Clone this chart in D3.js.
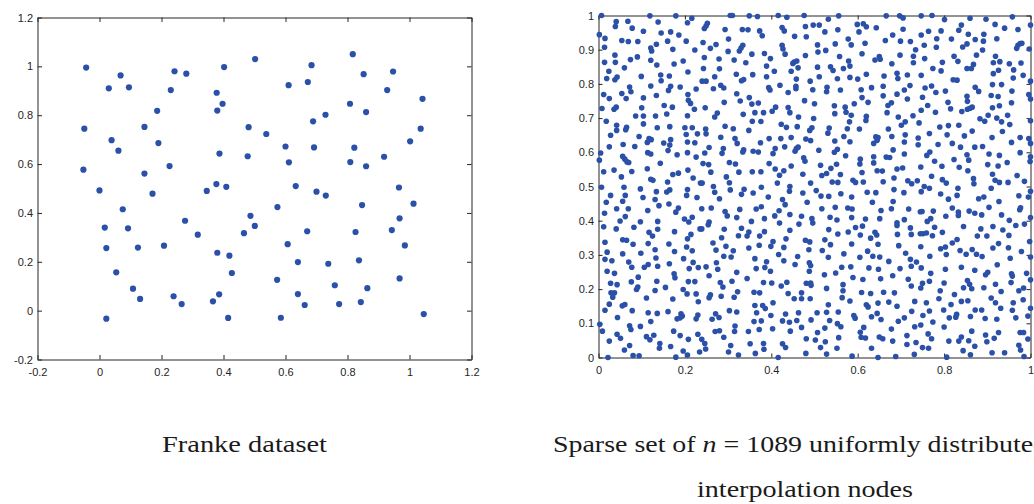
<!DOCTYPE html>
<html>
<head>
<meta charset="utf-8">
<script src="https://cdn.jsdelivr.net/npm/d3@7"></script>
<style>
body { margin: 0; background: #fff; }
svg { display: block; }
</style>
</head>
<body>
<svg id="chart" width="1034" height="504"></svg>
<script>
"use strict"

//
// Data
//
// Franke dataset (left panel), [x, y]
var frankeNodes = [
	[-.043,.995],[.068,.963],[.030,.910],[.095,.914],[.242,.980],[.280,.970],[.402,.997],[.230,.903],[.378,.892],[.397,.847],
	[.186,.818],[.380,.819],[-.049,.745],[.145,.752],[.039,.698],[.061,.655],[.190,.686],[.387,.643],[.478,.632],[.481,.751],
	[-.052,.577],[.226,.592],[.145,.561],[.171,.479],[0,.492],[.346,.490],[.377,.518],[.409,.507],[.075,.415],[.017,.340],
	[.092,.337],[.276,.368],[.317,.311],[.022,.256],[.124,.258],[.208,.266],[.380,.237],[.419,.225],[.054,.157],[.427,.154],
	[.108,.090],[.131,.048],[.239,.059],[.265,.027],[.366,.038],[.386,.067],[.022,-.033],[.415,-.030],[.466,.317],
	[.502,1.030],[.817,1.050],[.684,1.005],[.610,.923],[.672,.936],[.852,.968],[.947,.979],[.928,.903],[1.042,.867],[.808,.847],
	[.860,.813],[.729,.802],[.689,.775],[1.036,.745],[.538,.723],[1.002,.693],[.600,.672],[.692,.668],[.822,.667],[.918,.630],
	[.611,.607],[.809,.608],[.860,.591],[.633,.510],[.700,.487],[.730,.471],[.966,.504],[.574,.424],[.847,.432],[1.013,.438],
	[.487,.388],[.501,.347],[.968,.378],[.670,.325],[.826,.322],[.943,.330],[.607,.272],[.985,.267],[.640,.199],[.837,.206],
	[.738,.192],[.573,.126],[.968,.132],[.759,.104],[.864,.092],[.640,.068],[.662,.023],[.773,.027],[.843,.035],[.585,-.029],
	[1.046,-.014]
];

// sparse set of uniformly distributed nodes (right panel), [x, y]
var uniformNodes = [
	// upper left
	[.007,1],[.041,.982],[.039,.968],[.068,.983],[.078,.963],[.119,.999],[.138,.981],[.179,.999],[.206,.979],[.216,.992],
	[.002,.944],[.015,.933],[.054,.927],[.069,.924],[.091,.924],[.104,.954],[.145,.949],[.167,.952],[.186,.943],[.160,.925],
	[.203,.925],[.014,.907],[.121,.905],[.123,.896],[.134,.916],[.172,.901],[.223,.899],[.038,.884],[.074,.871],[.090,.879],
	[.014,.863],[.039,.863],[.121,.869],[.135,.855],[.175,.858],[.196,.867],[.060,.847],[.024,.837],[.207,.835],[.019,.816],
	[.038,.812],[.043,.820],[.099,.822],[.144,.826],[.145,.809],[.164,.823],[.072,.791],[.075,.777],[.054,.772],[.121,.794],
	[.167,.793],[.162,.781],[.189,.791],[.226,.785],[.012,.769],[.025,.757],[.064,.757],[.104,.759],[.134,.766],[.207,.769],
	[.208,.752],[.213,.743],[.008,.728],[.036,.726],[.041,.732],[.100,.730],[.152,.737],[.171,.732],[.222,.726],[.018,.691],
	[.086,.706],[.104,.706],[.132,.706],[.158,.712],[.206,.707],[.104,.683],[.042,.679],[.042,.664],[.065,.673],[.063,.666],
	[.136,.672],[.165,.675],[.200,.672],[.217,.672],[.028,.650],[.094,.646],[.117,.640],[.122,.637],[.113,.629],[.151,.627],
	[.167,.637],[.165,.621],[.161,.605],[.203,.652],[.206,.630],[.223,.628],[.229,.654],[.057,.623],[.025,.616],[.084,.617],
	[.114,.599],[.121,.595],[.206,.599],[.005,.598],[.002,.577],[.056,.588],[.061,.580],[.066,.572],[.070,.570],[.143,.568],
	[.182,.593],[.226,.586],[.012,.543],[.036,.548],[.077,.544],[.113,.552],[.172,.535],[.185,.539],[.207,.548],[.053,.528],
	[.121,.521],[.126,.518],[.160,.513],[.219,.525],[.236,.510],
	// upper middle left
	[.305,1],[.310,1],[.349,.999],[.368,.997],[.416,1],[.436,.995],[.476,1],[.252,.977],[.249,.969],[.245,.962],
	[.293,.959],[.333,.959],[.346,.958],[.373,.955],[.379,.941],[.425,.965],[.430,.955],[.454,.939],[.479,.968],[.481,.938],
	[.301,.931],[.242,.921],[.272,.915],[.259,.904],[.334,.913],[.330,.905],[.326,.896],[.300,.895],[.355,.887],[.384,.889],
	[.398,.874],[.425,.913],[.427,.902],[.432,.887],[.479,.883],[.245,.877],[.279,.873],[.314,.870],[.341,.862],[.389,.852],
	[.453,.864],[.459,.867],[.450,.860],[.243,.845],[.280,.844],[.462,.847],[.407,.837],[.446,.837],[.319,.828],[.357,.827],
	[.389,.821],[.269,.821],[.240,.808],[.249,.808],[.331,.809],[.336,.813],[.458,.814],[.490,.808],[.283,.796],[.290,.788],
	[.266,.786],[.394,.789],[.397,.782],[.420,.796],[.457,.793],[.457,.786],[.320,.771],[.439,.775],[.328,.750],[.349,.760],
	[.355,.741],[.370,.744],[.477,.751],[.291,.746],[.247,.730],[.410,.732],[.402,.720],[.439,.731],[.443,.716],[.275,.715],
	[.269,.703],[.335,.711],[.362,.716],[.382,.716],[.463,.703],[.356,.691],[.376,.690],[.423,.682],[.435,.673],[.460,.675],
	[.293,.676],[.312,.669],[.248,.668],[.249,.654],[.489,.664],[.348,.664],[.283,.644],[.316,.640],[.321,.626],[.395,.640],
	[.422,.640],[.446,.643],[.480,.639],[.491,.634],[.375,.628],[.256,.614],[.246,.598],[.289,.611],[.286,.597],[.336,.607],
	[.334,.601],[.358,.603],[.370,.601],[.409,.611],[.404,.596],[.431,.616],[.458,.611],[.462,.615],[.455,.603],[.475,.584],
	[.478,.574],[.242,.567],[.255,.564],[.303,.570],[.317,.566],[.395,.567],[.446,.560],[.260,.542],[.325,.542],[.356,.543],
	[.376,.543],[.409,.551],[.419,.533],[.429,.546],[.473,.536],[.296,.528],[.303,.511],[.240,.510],[.414,.510],[.491,.510],
	// upper middle right
	[.497,.972],[.511,.972],[.532,.989],[.556,.999],[.599,.974],[.613,.976],[.620,.967],[.603,.952],[.643,.964],[.666,.999],
	[.697,.999],[.705,.993],[.747,.999],[.524,.952],[.554,.958],[.705,.960],[.681,.943],[.664,.927],[.699,.925],[.722,.924],
	[.747,.943],[.507,.914],[.508,.893],[.526,.898],[.548,.917],[.578,.931],[.585,.914],[.617,.919],[.610,.888],[.640,.870],
	[.650,.880],[.652,.872],[.698,.884],[.734,.900],[.729,.881],[.558,.880],[.579,.867],[.582,.852],[.567,.845],[.537,.850],
	[.543,.839],[.507,.849],[.679,.859],[.729,.862],[.511,.821],[.553,.815],[.582,.819],[.600,.814],[.620,.828],[.661,.823],
	[.691,.831],[.693,.816],[.715,.826],[.747,.825],[.496,.783],[.529,.790],[.528,.777],[.560,.782],[.608,.783],[.632,.789],
	[.659,.793],[.708,.782],[.721,.795],[.610,.760],[.659,.765],[.691,.770],[.715,.756],[.500,.742],[.546,.736],[.547,.713],
	[.571,.732],[.573,.717],[.592,.742],[.624,.746],[.670,.737],[.678,.745],[.668,.716],[.747,.723],[.498,.699],[.585,.708],
	[.581,.689],[.620,.705],[.619,.693],[.694,.703],[.710,.689],[.701,.679],[.728,.707],[.742,.686],[.494,.672],[.534,.671],
	[.531,.656],[.576,.669],[.604,.668],[.671,.668],[.568,.646],[.547,.633],[.582,.631],[.637,.626],[.642,.645],[.647,.643],
	[.645,.635],[.679,.646],[.710,.651],[.708,.630],[.740,.642],[.740,.622],[.510,.606],[.546,.600],[.553,.609],[.572,.590],
	[.606,.580],[.605,.566],[.637,.587],[.637,.569],[.666,.586],[.674,.585],[.682,.607],[.708,.595],[.514,.562],[.528,.538],
	[.517,.532],[.538,.553],[.551,.565],[.560,.535],[.610,.541],[.645,.546],[.657,.545],[.691,.551],[.704,.554],[.746,.557],
	[.684,.525],[.541,.513],[.554,.512],[.589,.518],[.595,.512],[.613,.513],[.659,.514],[.716,.517],[.738,.517],[.725,.508],
	// upper right
	[.772,1],[.801,.988],[.860,.992],[.897,.989],[.958,.996],[1,.972],[.764,.954],[.793,.955],[.783,.932],[.782,.907],
	[.817,.931],[.840,.972],[.834,.957],[.856,.945],[.872,.930],[.892,.945],[.891,.925],[.918,.974],[.922,.932],[.940,.963],
	[.971,.959],[.754,.913],[.843,.908],[.853,.917],[.889,.899],[.875,.884],[.823,.881],[.832,.866],[.755,.874],[.796,.863],
	[.793,.838],[.774,.845],[.853,.845],[.863,.845],[.868,.857],[.919,.881],[.914,.862],[.929,.865],[.926,.840],[.914,.830],
	[.951,.859],[.961,.841],[.978,.861],[.971,.913],[.976,.918],[.980,.919],[.968,.904],[.997,.902],[.821,.812],[.830,.811],
	[.983,.825],[.960,.817],[1,.808],[.756,.788],[.771,.794],[.781,.775],[.803,.779],[.872,.790],[.880,.778],[.912,.798],
	[.933,.798],[.957,.779],[.750,.761],[.809,.746],[.762,.737],[.853,.764],[.854,.749],[.909,.766],[.925,.763],[.996,.769],
	[1,.756],[.956,.745],[.815,.727],[.780,.717],[.841,.719],[.854,.726],[.860,.729],[.865,.732],[.912,.730],[.928,.736],
	[.883,.698],[.894,.691],[.902,.708],[.922,.700],[.933,.689],[.947,.708],[1,.692],[.952,.681],[.790,.674],[.810,.678],
	[.834,.679],[.865,.662],[.935,.661],[.766,.655],[.807,.651],[.847,.648],[.911,.643],[.976,.643],[.996,.640],[1,.626],
	[.786,.623],[.819,.626],[.838,.615],[.871,.615],[.889,.617],[.956,.629],[.760,.591],[.767,.601],[.853,.593],[.904,.595],
	[.928,.591],[.976,.599],[1,.587],[.999,.573],[.778,.574],[.823,.579],[.857,.577],[.795,.559],[.835,.556],[.901,.564],
	[.925,.560],[.946,.570],[.771,.530],[.855,.546],[.868,.523],[.912,.536],[.918,.518],[.928,.512],[.948,.512],[.969,.532],
	[.986,.515],[.796,.520],[.805,.510],[.869,.508],
	// lower left
	[.007,.498],[.059,.498],[.097,.493],[.134,.485],[.165,.490],[.158,.484],[.206,.491],[.204,.474],[.028,.474],[.018,.454],
	[.062,.474],[.056,.457],[.069,.435],[.042,.435],[.103,.468],[.131,.462],[.140,.444],[.163,.449],[.185,.437],[.179,.425],
	[.228,.468],[.014,.422],[.062,.412],[.050,.399],[.097,.397],[.114,.430],[.137,.398],[.137,.375],[.199,.405],[.209,.396],
	[.217,.410],[.012,.382],[.041,.376],[.082,.381],[.117,.366],[.125,.355],[.115,.333],[.176,.368],[.206,.347],[.204,.323],
	[.214,.360],[.235,.376],[.015,.337],[.056,.344],[.065,.343],[.080,.331],[.020,.308],[.056,.303],[.098,.305],[.131,.315],
	[.133,.291],[.163,.332],[.176,.310],[.217,.312],[.015,.287],[.031,.283],[.070,.279],[.077,.264],[.106,.264],[.115,.272],
	[.137,.267],[.164,.274],[.197,.289],[.210,.260],[.219,.278],[.231,.263],[.020,.252],[.037,.246],[.043,.213],[.092,.235],
	[.175,.245],[.177,.233],[.028,.217],[.076,.221],[.135,.223],[.208,.222],[.223,.222],[.091,.206],[.088,.199],[.111,.174],
	[.131,.196],[.155,.205],[.196,.199],[.029,.189],[.037,.189],[.033,.176],[.172,.171],[.205,.186],[.226,.186],[.231,.163],
	[.025,.156],[.055,.151],[.061,.155],[.015,.138],[.078,.137],[.115,.131],[.136,.129],[.161,.134],[.191,.128],[.194,.121],
	[.182,.113],[.189,.116],[.230,.124],[.226,.113],[.044,.117],[.121,.105],[.003,.097],[.072,.093],[.075,.082],[.097,.091],
	[.009,.077],[.043,.068],[.051,.056],[.111,.061],[.119,.052],[.128,.065],[.174,.077],[.189,.064],[.208,.053],[.230,.068],
	[.025,.048],[.142,.041],[.141,.027],[.167,.032],[.072,.035],[.060,.022],[.196,.019],[.234,.016],[.080,.006],[.094,.005],
	[.179,.001],[.206,.007],[.022,0],
	// lower middle left
	[.266,.500],[.305,.490],[.337,.492],[.331,.477],[.358,.481],[.377,.498],[.442,.486],[.443,.500],[.473,.481],[.269,.483],
	[.280,.464],[.393,.469],[.426,.462],[.432,.447],[.483,.454],[.239,.435],[.261,.437],[.293,.427],[.298,.414],[.327,.433],
	[.365,.434],[.377,.441],[.418,.429],[.408,.414],[.443,.418],[.470,.413],[.320,.409],[.354,.398],[.384,.406],[.419,.393],
	[.464,.390],[.239,.376],[.256,.396],[.254,.388],[.291,.375],[.331,.378],[.348,.367],[.344,.355],[.324,.356],[.384,.368],
	[.373,.355],[.443,.372],[.434,.347],[.285,.350],[.265,.335],[.272,.314],[.295,.325],[.312,.312],[.307,.294],[.348,.320],
	[.372,.328],[.404,.339],[.399,.325],[.429,.322],[.479,.343],[.489,.338],[.487,.315],[.290,.296],[.362,.289],[.417,.301],
	[.429,.283],[.461,.295],[.273,.277],[.249,.265],[.276,.258],[.365,.260],[.389,.280],[.385,.263],[.398,.252],[.455,.272],
	[.488,.277],[.491,.269],[.488,.252],[.256,.239],[.320,.249],[.344,.231],[.309,.223],[.282,.219],[.288,.206],[.382,.219],
	[.401,.218],[.423,.209],[.436,.220],[.481,.217],[.491,.218],[.322,.192],[.314,.176],[.259,.183],[.256,.175],[.284,.179],
	[.360,.191],[.373,.189],[.439,.187],[.453,.172],[.470,.189],[.470,.172],[.490,.172],[.404,.160],[.362,.152],[.366,.131],
	[.380,.152],[.386,.143],[.303,.137],[.320,.133],[.399,.123],[.271,.128],[.279,.117],[.263,.112],[.433,.127],[.463,.131],
	[.360,.105],[.377,.107],[.426,.107],[.442,.103],[.459,.108],[.492,.110],[.316,.092],[.315,.076],[.270,.076],[.280,.078],
	[.347,.076],[.372,.082],[.403,.084],[.444,.077],[.470,.088],[.290,.059],[.239,.053],[.246,.041],[.481,.055],[.351,.040],
	[.382,.041],[.383,.024],[.426,.040],[.433,.029],[.306,.035],[.248,.025],[.301,.016],[.324,.007],[.363,.012],[.416,0],
	[.480,.012],
	// lower middle right
	[.504,.488],[.515,.472],[.533,.471],[.561,.479],[.586,.469],[.622,.483],[.642,.482],[.684,.491],[.707,.482],[.747,.485],
	[.634,.454],[.682,.456],[.517,.435],[.548,.439],[.577,.437],[.587,.434],[.654,.430],[.678,.435],[.718,.434],[.745,.426],
	[.494,.406],[.496,.393],[.536,.410],[.552,.402],[.586,.409],[.618,.405],[.651,.406],[.708,.403],[.691,.394],[.691,.386],
	[.533,.374],[.554,.361],[.578,.367],[.595,.380],[.611,.384],[.606,.358],[.640,.366],[.644,.358],[.630,.349],[.722,.379],
	[.724,.360],[.692,.360],[.745,.362],[.524,.344],[.537,.330],[.586,.332],[.647,.331],[.695,.327],[.746,.324],[.518,.313],
	[.568,.303],[.623,.311],[.532,.293],[.605,.293],[.635,.296],[.651,.294],[.672,.281],[.711,.305],[.722,.287],[.736,.279],
	[.724,.267],[.747,.262],[.563,.264],[.584,.265],[.626,.262],[.648,.258],[.698,.260],[.523,.242],[.549,.247],[.589,.234],
	[.612,.228],[.653,.230],[.681,.239],[.717,.229],[.746,.203],[.750,.217],[.492,.211],[.566,.213],[.566,.195],[.564,.175],
	[.528,.202],[.609,.190],[.630,.187],[.660,.191],[.685,.189],[.724,.209],[.582,.165],[.672,.162],[.647,.159],[.620,.154],
	[.624,.148],[.691,.150],[.732,.164],[.532,.154],[.506,.131],[.528,.132],[.555,.133],[.591,.123],[.594,.115],[.632,.119],
	[.645,.129],[.654,.111],[.708,.116],[.725,.135],[.751,.123],[.535,.108],[.553,.099],[.561,.090],[.694,.106],[.746,.095],
	[.732,.090],[.524,.086],[.614,.088],[.606,.074],[.608,.059],[.618,.057],[.678,.083],[.507,.073],[.556,.058],[.650,.060],
	[.658,.055],[.714,.064],[.502,.051],[.525,.046],[.632,.027],[.681,.048],[.714,.038],[.735,.044],[.750,.029],[.514,.029],
	[.552,.027],[.528,.010],[.587,.004],[.647,0],[.688,.003],[.731,.009],
	// lower right
	[.754,.500],[.766,.495],[.832,.495],[.830,.474],[.792,.478],[.810,.463],[.880,.464],[.892,.469],[.909,.495],[.927,.456],
	[.904,.439],[.973,.473],[.995,.469],[1,.486],[.749,.427],[.775,.428],[.819,.437],[.833,.425],[.833,.415],[.858,.428],
	[.871,.422],[.887,.417],[.933,.417],[.977,.438],[.975,.432],[.804,.413],[1,.409],[.769,.406],[.761,.398],[.951,.401],
	[.986,.390],[.778,.381],[.845,.383],[.885,.376],[.913,.383],[.936,.373],[.966,.386],[.751,.362],[.759,.364],[.773,.356],
	[.796,.366],[.830,.345],[.877,.355],[.899,.355],[.950,.357],[.998,.339],[.792,.318],[.803,.323],[.805,.301],[.819,.335],
	[.837,.313],[.851,.302],[.865,.316],[.875,.302],[.888,.295],[.913,.320],[.926,.333],[.949,.321],[.979,.310],[.767,.296],
	[.953,.290],[1,.294],[.803,.258],[.840,.264],[.871,.255],[.923,.271],[.956,.245],[.958,.238],[.991,.246],[.769,.246],
	[.896,.242],[.901,.249],[.854,.225],[.859,.214],[.864,.201],[.766,.223],[.800,.218],[.845,.204],[.892,.204],[.919,.214],
	[.932,.193],[.955,.219],[.984,.203],[.973,.195],[1,.227],[.791,.195],[.824,.184],[.788,.172],[.840,.164],[.855,.166],
	[.909,.174],[.919,.160],[.960,.160],[.983,.169],[.759,.160],[.816,.155],[.872,.139],[.887,.139],[.931,.144],[.958,.138],
	[1,.144],[.766,.136],[.799,.139],[.829,.126],[.827,.118],[.812,.116],[.861,.120],[.895,.114],[.922,.112],[.966,.116],
	[.994,.121],[.774,.104],[.800,.089],[.864,.077],[.926,.073],[.976,.073],[.984,.073],[.763,.069],[.771,.055],[.840,.060],
	[.834,.048],[.811,.048],[.857,.049],[.896,.066],[.899,.046],[.916,.056],[.994,.054],[.764,.027],[.844,.020],[.871,.033],
	[.973,.036],[.977,.022],[.911,.014],[.940,.014],[.861,.008],[.806,.001],[.985,.003]
];

var frankeTicks = [-0.2, 0, 0.2, 0.4, 0.6, 0.8, 1, 1.2];
var frankeTickLabels = ["-0.2", "0", "0.2", "0.4", "0.6", "0.8", "1", "1.2"];
var uniformXTicks = [0, 0.2, 0.4, 0.6, 0.8, 1];
var uniformXTickLabels = ["0", "0.2", "0.4", "0.6", "0.8", "1"];
var uniformYTicks = [0, 0.1, 0.2, 0.3, 0.4, 0.5, 0.6, 0.7, 0.8, 0.9, 1];
var uniformYTickLabels = ["0", "0.1", "0.2", "0.3", "0.4", "0.5", "0.6", "0.7", "0.8", "0.9", "1"];

var POINT_FILL = "#2b50a8";
var AXIS_COLOR = "#262626";
var TICK_FONT = "'Liberation Sans', Arial, sans-serif";
var CAPTION_FONT = "'Liberation Serif', 'Times New Roman', serif";

var svg = d3.select("#chart");

//
// one MATLAB style axes box with inward ticks and a scatter of nodes
//
function drawPanel(opt) {
	var g = svg.append("g");
	var x = d3.scaleLinear().domain(opt.xDomain).range([opt.left, opt.right]);
	var y = d3.scaleLinear().domain(opt.yDomain).range([opt.bottom, opt.top]);
	var tick = opt.tickLen;

	var axes = [
		{ gen: d3.axisBottom(x).tickValues(opt.xTicks).tickFormat(function(d, i) { return opt.xLabels[i]; })
				.tickPadding(8.5), at: "translate(0," + opt.bottom + ")" },
		{ gen: d3.axisTop(x).tickValues(opt.xTicks).tickFormat(""), at: "translate(0," + opt.top + ")" },
		{ gen: d3.axisLeft(y).tickValues(opt.yTicks).tickFormat(function(d, i) { return opt.yLabels[i]; })
				.tickPadding(4.5), at: "translate(" + opt.left + ",0)" },
		{ gen: d3.axisRight(y).tickValues(opt.yTicks).tickFormat(""), at: "translate(" + opt.right + ",0)" }
	];
	axes.forEach(function(a) {
		a.gen.tickSizeInner(-tick).tickSizeOuter(0);
		var ga = g.append("g").attr("transform", a.at).call(a.gen);
		ga.select(".domain").attr("stroke", AXIS_COLOR).attr("stroke-width", 1);
		ga.selectAll(".tick line").attr("stroke", AXIS_COLOR).attr("stroke-width", 1);
		ga.selectAll(".tick text")
			.attr("fill", AXIS_COLOR)
			.style("font-family", TICK_FONT)
			.style("font-size", "11px");
	});

	// nodes drawn last so they sit on top of the box, not clipped
	g.append("g").selectAll("circle")
		.data(opt.nodes)
		.join("circle")
		.attr("cx", function(d) { return x(d[0]); })
		.attr("cy", function(d) { return y(d[1]); })
		.attr("r", opt.radius)
		.attr("fill", POINT_FILL);
}

drawPanel({
	nodes: frankeNodes,
	xDomain: [-0.2, 1.2], yDomain: [-0.2, 1.2],
	xTicks: frankeTicks, xLabels: frankeTickLabels,
	yTicks: frankeTicks, yLabels: frankeTickLabels,
	left: 37.5, right: 471.5, top: 17.5, bottom: 359.5,
	tickLen: 4.5, radius: 3.1
});

drawPanel({
	nodes: uniformNodes,
	xDomain: [0, 1], yDomain: [0, 1],
	xTicks: uniformXTicks, xLabels: uniformXTickLabels,
	yTicks: uniformYTicks, yLabels: uniformYTickLabels,
	left: 598.5, right: 1030.5, top: 15.5, bottom: 357.5,
	tickLen: 4, radius: 2.8
});

//
// captions
//
function caption(cx, cy, width, parts) {
	var t = svg.append("text")
		.attr("x", cx).attr("y", cy)
		.attr("text-anchor", "middle")
		.attr("textLength", width)
		.attr("lengthAdjust", "spacingAndGlyphs")
		.attr("fill", "#1a1a1a")
		.style("font-family", CAPTION_FONT)
		.style("font-size", "24px");
	parts.forEach(function(p) {
		t.append("tspan").style("font-style", p.italic ? "italic" : "normal").text(p.text);
	});
}

caption(244.5, 452, 165, [{ text: "Franke dataset" }]);
caption(800, 452, 494, [
	{ text: "Sparse set of " }, { text: "n", italic: true }, { text: " = 1089 uniformly distributed" }
]);
caption(805, 497, 216, [{ text: "interpolation nodes" }]);
</script>
</body>
</html>
